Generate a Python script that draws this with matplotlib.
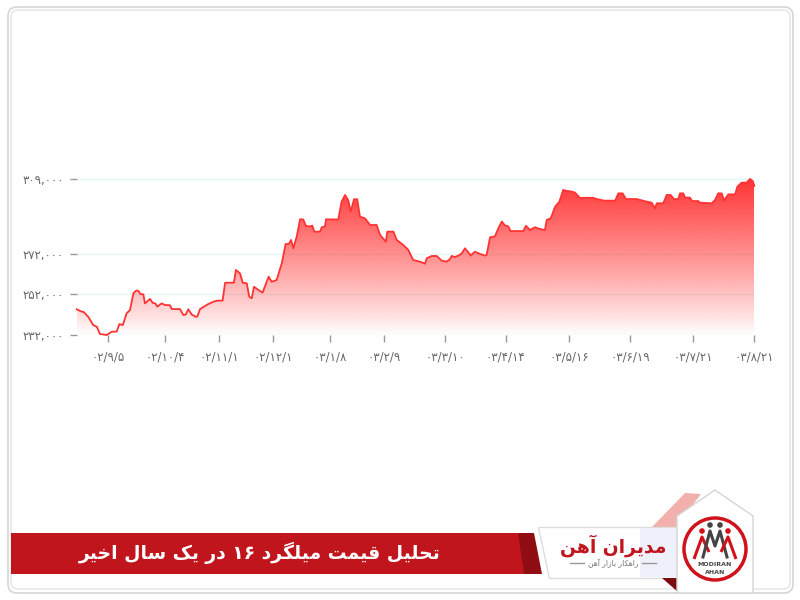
import re
import matplotlib
matplotlib.use("Agg")
import matplotlib.pyplot as plt
import numpy as np
from matplotlib.patches import Polygon, FancyBboxPatch, Circle

# price series (rial), x = position on the trading-day axis
x_idx = [0, 2.2, 2.9, 5.1, 7.3, 8.9, 10.3, 13.3, 15.5, 17.7, 18.9, 20.4, 22.1, 23.6, 25.1,
         26.3, 27.3, 28.3, 29.5, 30.2, 32.5, 33.6, 34.8, 35.7, 37.6, 39.1, 41.3, 42.1, 45.7,
         47.2, 48.3, 49.4, 50.9, 52.7, 53.4, 54.6, 56.4, 58.3, 60.5, 62, 64.6, 65.7, 67.9,
         69.6, 70.5, 72.3, 73.5, 75.3, 76.4, 77.5, 78.5, 80, 82.3, 84.1, 85, 86.3, 88.5, 90.8,
         92.5, 93.9, 94.9, 95.9, 97.4, 98.9, 100.3, 101.5, 103.3, 104.3, 105.2, 107.7, 108.5,
         109.9, 110.4, 114.4, 115.8, 117.3, 118.8, 120.2, 121.3, 122.8, 124.2, 125.4, 127.6,
         129.9, 132.8, 134.3, 136.9, 137.5, 140.2, 141.7, 144.6, 146.8, 149, 152, 154.2, 155,
         157.2, 159.4, 161.6, 163.8, 165.3, 166, 167.5, 169, 170.5, 171.9, 173.4, 174.4, 176.3,
         178.6, 180.8, 181.5, 183, 185.2, 186.7, 188.2, 189.6, 191.1, 192.1, 197.7, 198.9,
         200.7, 202.9, 204.4, 207.3, 208.1, 209.9, 211.8, 213.7, 215.4, 216.9, 218.7, 220.6,
         222.8, 224.3, 228.7, 230.2, 233.5, 238.4, 239.8, 241.7, 243.2, 247.9, 252.4, 254.6,
         256, 256.8, 259.7, 261.2, 263, 264.4, 266.3, 267.1, 268.6, 269.3, 271.5, 272.5, 275.2,
         275.9, 281.1, 282.6, 284, 285.6, 286.6, 288.5, 291.5, 292.5, 294.4, 296.6, 298.1,
         299.3, 300]
prices = [244700, 243500, 243500, 241000, 236900, 236100, 232500, 232000, 233600, 233700,
          237400, 236900, 242700, 244300, 252600, 253900, 253800, 252100, 252100, 247600,
          249800, 247900, 247600, 246000, 247600, 246800, 246700, 244800, 244800, 241900,
          242100, 244700, 242100, 241000, 241100, 244800, 246000, 247300, 248400, 248900,
          249000, 257800, 257800, 257800, 264100, 262400, 257800, 257500, 250900, 250100,
          255800, 254600, 252900, 258300, 260800, 258300, 259100, 267400, 276900, 276900,
          278900, 274800, 280500, 289100, 289000, 285800, 285600, 286000, 283000, 283000,
          285200, 285600, 289100, 289000, 289000, 297800, 301100, 298600, 292900, 299000,
          299000, 290400, 289600, 286300, 286300, 281400, 278000, 283000, 283000, 278900,
          276400, 274000, 269000, 268200, 267200, 269900, 271000, 271000, 268700, 268200,
          269500, 271000, 270500, 271200, 272300, 274800, 272800, 271200, 273100, 272000,
          271200, 271500, 280200, 280700, 284700, 288000, 286100, 285600, 283300, 283300,
          285900, 283800, 285200, 284500, 283800, 288800, 289600, 295300, 297800, 303600,
          303100, 302900, 302300, 299600, 299700, 299700, 299100, 298300, 298300, 301900,
          301900, 299100, 299100, 297800, 297300, 294500, 297000, 297000, 301100, 301100,
          299100, 299100, 301900, 301900, 299800, 299800, 298100, 298100, 297300, 297000,
          298600, 301900, 301900, 298300, 301400, 301400, 305200, 307200, 307200, 309000,
          308000, 305600]

y_ticks = [232000, 252000, 272000, 309000]
x_tick_pos = [14, 39, 63, 87, 112, 136, 163, 190, 218, 245, 273, 300]
x_tick_labels = ['۰۲/۹/۵', '۰۲/۱۰/۴', '۰۲/۱۱/۱', '۰۲/۱۲/۱', '۰۳/۱/۸', '۰۳/۲/۹',
                 '۰۳/۳/۱۰', '۰۳/۴/۱۴', '۰۳/۵/۱۶', '۰۳/۶/۱۹', '۰۳/۷/۲۱', '۰۳/۸/۲۱']

title_text = 'تحلیل قیمت میلگرد ۱۶ در یک سال اخیر'
brand_name = 'مدیران آهن'
brand_tagline = 'راهکار بازار آهن'
logo_text = ['MODIRAN', 'AHAN']

PERSIAN_DIGITS = str.maketrans('0123456789', '۰۱۲۳۴۵۶۷۸۹')

# presentation forms: isolated, final, initial, medial
FORMS = {
    'ا': ('\uFE8D', '\uFE8E', None, None),
    'آ': ('\uFE81', '\uFE82', None, None),
    'ب': ('\uFE8F', '\uFE90', '\uFE91', '\uFE92'),
    'ت': ('\uFE95', '\uFE96', '\uFE97', '\uFE98'),
    'ح': ('\uFEA1', '\uFEA2', '\uFEA3', '\uFEA4'),
    'خ': ('\uFEA5', '\uFEA6', '\uFEA7', '\uFEA8'),
    'د': ('\uFEA9', '\uFEAA', None, None),
    'ر': ('\uFEAD', '\uFEAE', None, None),
    'ز': ('\uFEAF', '\uFEB0', None, None),
    'س': ('\uFEB1', '\uFEB2', '\uFEB3', '\uFEB4'),
    'ق': ('\uFED5', '\uFED6', '\uFED7', '\uFED8'),
    'ل': ('\uFEDD', '\uFEDE', '\uFEDF', '\uFEE0'),
    'م': ('\uFEE1', '\uFEE2', '\uFEE3', '\uFEE4'),
    'ن': ('\uFEE5', '\uFEE6', '\uFEE7', '\uFEE8'),
    'ه': ('\uFEE9', '\uFEEA', '\uFEEB', '\uFEEC'),
    'و': ('\uFEED', '\uFEEE', None, None),
    'ی': ('\uFBFC', '\uFBFD', '\uFBFE', '\uFBFF'),
    'ک': ('\uFB8E', '\uFB8F', '\uFB90', '\uFB91'),
    'گ': ('\uFB92', '\uFB93', '\uFB94', '\uFB95'),
}


def shape_fa(text):
    # matplotlib has no bidi / arabic shaping, so do it by hand
    out = []
    for i, c in enumerate(text):
        if c not in FORMS:
            out.append(c)
            continue
        iso, fin, ini, med = FORMS[c]
        prev = text[i - 1] if i > 0 else ''
        nxt = text[i + 1] if i + 1 < len(text) else ''
        jp = prev in FORMS and FORMS[prev][2] is not None
        jn = ini is not None and nxt in FORMS
        if jp and jn:
            out.append(med)
        elif jp:
            out.append(fin)
        elif jn:
            out.append(ini)
        else:
            out.append(iso)
    vis = ''.join(out)[::-1]
    return re.sub(r'[۰-۹0-9]+', lambda m: m.group()[::-1], vis)


FA_FONT = ['DejaVu Sans']

fig = plt.figure(figsize=(8, 6), dpi=100)
fig.patch.set_facecolor('white')

# decoration layer in pixel units
deco = fig.add_axes([0, 0, 1, 1], zorder=0)
deco.set_xlim(0, 800)
deco.set_ylim(600, 0)
deco.axis('off')

deco.add_patch(FancyBboxPatch((8, 7), 785, 586, boxstyle='round,pad=0,rounding_size=9',
                              fc='none', ec='#d6d6d6', lw=1.2))
deco.add_patch(FancyBboxPatch((11, 10), 779, 579, boxstyle='round,pad=0,rounding_size=7',
                              fc='none', ec='#e8e8e8', lw=1.2))

# red title band
deco.add_patch(Polygon([(11, 533), (530, 533), (538, 574), (11, 574)], closed=True,
                       fc='#c1151d', ec='none'))
deco.add_patch(Polygon([(518, 533), (534, 533), (542, 574), (524, 574)], closed=True,
                       fc='#900d13', ec='none'))
deco.text(260, 553, shape_fa(title_text), color='white', fontsize=13.5, fontweight='bold',
          ha='center', va='center', family=FA_FONT)

# pink ribbon behind logo
deco.add_patch(Polygon([(652, 527), (685, 493), (701, 494), (676, 527)], closed=True,
                       fc='#f2b0ac', ec='none'))

# brand card
deco.add_patch(Polygon([(538, 527), (678, 527), (678, 578), (549, 578)], closed=True,
                       fc='white', ec='#dcdcdc', lw=1))
deco.add_patch(Polygon([(640, 528), (677, 528), (677, 577), (640, 577)], closed=True,
                       fc='#eef0fa', ec='none'))
deco.add_patch(Polygon([(662, 578), (678, 578), (678, 592)], closed=True,
                       fc='#7c0b10', ec='none'))
deco.text(613, 546, shape_fa(brand_name), color='#c1151d', fontsize=13.5, fontweight='bold',
          ha='center', va='center', family=FA_FONT)
deco.text(613, 563, shape_fa(brand_tagline), color='#777777', fontsize=5.5,
          ha='center', va='center', family=FA_FONT)
deco.plot([570, 584], [563, 563], color='#999999', lw=1)
deco.plot([642, 656], [563, 563], color='#999999', lw=1)

# house-shaped logo plate
deco.add_patch(Polygon([(677, 516), (715, 490), (753, 516), (753, 593), (677, 593)],
                       closed=True, fc='white', ec='#d4d4d4', lw=1))
deco.add_patch(Circle((715, 549), 31, fc='white', ec='#d0121b', lw=2.5))
for hx, hy, hc in [(702, 531, '#d0121b'), (710, 525, '#444444'),
                   (720, 525, '#444444'), (728, 531, '#d0121b')]:
    deco.add_patch(Circle((hx, hy), 2.8, fc=hc, ec='none'))
deco.plot([694, 702, 709], [559, 537, 552], color='#d0121b', lw=2.2, solid_capstyle='butt')
deco.plot([703, 710, 715, 720, 727], [557, 531, 546, 531, 557], color='#444444', lw=2.2)
deco.plot([721, 728, 736], [552, 537, 559], color='#d0121b', lw=2.2, solid_capstyle='butt')
deco.text(715, 565, logo_text[0], color='#444444', fontsize=4.5, fontweight='bold',
          ha='center', va='center')
deco.text(715, 572, logo_text[1], color='#444444', fontsize=4.5, fontweight='bold',
          ha='center', va='center')

# price chart
ymin, ymax = 232000, 312000
ax = fig.add_axes([76.7 / 800, 1 - 335 / 600, (754.3 - 76.7) / 800, (335 - 172.9) / 600],
                  zorder=1)
ax.patch.set_alpha(0)
ax.set_xlim(x_idx[0], x_idx[-1])
ax.set_ylim(ymin, ymax)

for v in y_ticks:
    ax.axhline(v, color='#e3f6f6', lw=1, zorder=0)

area = Polygon(np.column_stack([x_idx + [x_idx[-1], x_idx[0]],
                                prices + [ymin, ymin]]), closed=True,
               fc='none', ec='none')
ax.add_patch(area)
frac = np.linspace(0, 1, 256)
grad = np.zeros((256, 1, 4))
grad[:, 0, 0] = 1.0
grad[:, 0, 1] = 0.2
grad[:, 0, 2] = 0.2
grad[:, 0, 3] = np.clip(frac * (ymax - ymin) / (309000 - ymin), 0, 1) ** 0.9
img = ax.imshow(grad, origin='lower', aspect='auto',
                extent=[x_idx[0], x_idx[-1], ymin, ymax], zorder=1)
img.set_clip_path(area)
ax.plot(x_idx, prices, color='#ff3333', lw=1.3, zorder=2, clip_on=False)

ax.set_yticks(y_ticks)
ax.set_yticklabels([f'{v:,}'.translate(PERSIAN_DIGITS) for v in y_ticks],
                   family=FA_FONT)
ax.set_xticks(x_tick_pos)
ax.set_xticklabels(x_tick_labels, family=FA_FONT)
ax.tick_params(axis='both', colors='#999999', labelcolor='#666666', labelsize=8.5,
               length=5, width=1)
ax.tick_params(axis='y', pad=4)
ax.tick_params(axis='x', pad=6)
for s in ax.spines.values():
    s.set_visible(False)

fig.savefig('out.png', dpi=100)
